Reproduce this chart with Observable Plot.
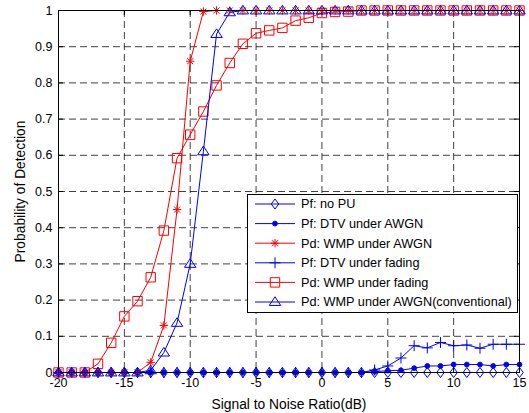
<!DOCTYPE html>
<html>
<head>
<meta charset="utf-8">
<script src="https://cdn.jsdelivr.net/npm/d3@7"></script>
<script src="https://cdn.jsdelivr.net/npm/@observablehq/plot@0.6"></script>
<style>
  html, body { margin: 0; padding: 0; background: #fff; }
  #wrap { position: relative; width: 529px; height: 413px; }
  #legend { position: absolute; }
</style>
</head>
<body>
<div id="wrap"></div>
<script>
// ---- data ----
const snr = [-20,-19,-18,-17,-16,-15,-14,-13,-12,-11,-10,-9,-8,-7,-6,-5,-4,-3,-2,-1,0,1,2,3,4,5,6,7,8,9,10,11,12,13,14,15];
const pfNoPU = [0,0,0,0,0,0,0,0,0,0,0,0,0,0,0,0,0,0,0,0,0,0,0,0,0,0,0,0,0,0,0,0,0,0,0,0];
const pfDtvAwgn = [0,0,0,0,0,0,0,0,0,0,0,0,0,0,0,0,0,0,0,0,0,0,0,0,0.002,0.005,0.006,0.012,0.018,0.018,0.022,0.022,0.022,0.018,0.022,0.022];
const pdWmpAwgn = [0,0,0,0,0,0,0,0.028,0.13,0.45,0.86,0.997,1,1,1,1,1,1,1,1,1,1,1,1,1,1,1,1,1,1,1,1,1,1,1,1];
const pfDtvFading = [0,0,0,0,0,0,0,0,0,0,0,0,0,0,0,0,0,0,0,0,0,0,0,0,0.007,0.018,0.04,0.074,0.068,0.083,0.074,0.076,0.067,0.078,0.078,0.078];
const pdWmpFading = [0,0,0,0.024,0.082,0.155,0.197,0.263,0.392,0.592,0.657,0.721,0.793,0.855,0.908,0.937,0.945,0.952,0.972,0.98,0.993,0.996,0.997,1,1,1,1,1,1,1,1,1,1,1,1,1];
const pdConventional = [0,0,0,0,0,0,0,0.006,0.055,0.137,0.30,0.611,0.935,0.995,1,1,1,1,1,1,1,1,1,1,1,1,1,1,1,1,1,1,1,1,1,1];
const seriesNames = ["Pf: no PU","Pf: DTV under AWGN","Pd: WMP under AWGN","Pf: DTV under fading","Pd: WMP under fading","Pd: WMP under AWGN(conventional)"];
const xTicks = [-20,-15,-10,-5,0,5,10,15];
const yTicks = [0,0.1,0.2,0.3,0.4,0.5,0.6,0.7,0.8,0.9,1];
const xLabel = "Signal to Noise Ratio(dB)";
const yLabel = "Probability of Detection";

// ---- marker shapes (MATLAB-like); r = half extent in px ----
const half = size => Math.sqrt(size / Math.PI);
const symDiamond = {draw(c, s){ const h = half(s), w = h*0.75; c.moveTo(0,-h); c.lineTo(w,0); c.lineTo(0,h); c.lineTo(-w,0); c.closePath(); }};
const symSquare = {draw(c, s){ const h = half(s); c.moveTo(-h,-h); c.lineTo(h,-h); c.lineTo(h,h); c.lineTo(-h,h); c.closePath(); }};
const symTriangle = {draw(c, s){ const h = half(s); c.moveTo(0,-h); c.lineTo(1.1*h,0.66*h); c.lineTo(-1.1*h,0.66*h); c.closePath(); }};
const symPlus = {draw(c, s){ const h = half(s); c.moveTo(-h,0); c.lineTo(h,0); c.moveTo(0,-h); c.lineTo(0,h); }};
const symStar = {draw(c, s){ const h = half(s), d = h*0.72; c.moveTo(-h,0); c.lineTo(h,0); c.moveTo(0,-h); c.lineTo(0,h); c.moveTo(-d,-d); c.lineTo(d,d); c.moveTo(-d,d); c.lineTo(d,-d); }};
const symDot = {draw(c, s){ const h = half(s); c.moveTo(h,0); c.arc(0,0,h,0,2*Math.PI); c.closePath(); }};

const BLUE = "#0000ff", RED = "#ff0000";
const series = [
  {name: seriesNames[0], values: pfNoPU, color: BLUE, symbol: symDiamond, r: 5, fill: "none"},
  {name: seriesNames[1], values: pfDtvAwgn, color: BLUE, symbol: symDot, r: 2.4, fill: BLUE},
  {name: seriesNames[2], values: pdWmpAwgn, color: RED, symbol: symStar, r: 4.2, fill: "none"},
  {name: seriesNames[3], values: pfDtvFading, color: BLUE, symbol: symPlus, r: 5.5, fill: "none"},
  {name: seriesNames[4], values: pdWmpFading, color: RED, symbol: symSquare, r: 4.7, fill: "none"},
  {name: seriesNames[5], values: pdConventional, color: BLUE, symbol: symTriangle, r: 5.2, fill: "none"}
];

const W = 529, H = 413;
const mL = 58, mR = 10, mT = 10, mB = 41;
const innerW = W - mL - mR, innerH = H - mT - mB;
const tickLen = 5;
const FONT = "'Liberation Sans', Arial, Helvetica, sans-serif";

const seriesMarks = series.flatMap(s => {
  const rows = snr.map((x, i) => ({x, y: s.values[i]}));
  return [
    Plot.line(rows, {x: "x", y: "y", stroke: s.color, strokeWidth: 1}),
    Plot.dot(rows, {x: "x", y: "y", symbol: s.symbol, r: s.r, stroke: s.color, fill: s.fill, strokeWidth: 1})
  ];
});

const chart = Plot.plot({
  width: W, height: H,
  marginLeft: mL, marginRight: mR, marginTop: mT, marginBottom: mB,
  style: {fontFamily: FONT, fontSize: "12.5px", background: "#fff", color: "#000"},
  x: {domain: [-20, 15]},
  y: {domain: [0, 1]},
  marks: [
    Plot.gridX(xTicks, {stroke: "#000", strokeOpacity: 0.75, strokeDasharray: "7,4"}),
    Plot.gridY(yTicks, {stroke: "#000", strokeOpacity: 0.75, strokeDasharray: "7,4"}),
    Plot.tickX(xTicks, {x: d => d, stroke: "#000", insetTop: innerH - tickLen}),
    Plot.tickX(xTicks, {x: d => d, stroke: "#000", insetBottom: innerH - tickLen}),
    Plot.tickY(yTicks, {y: d => d, stroke: "#000", insetRight: innerW - tickLen}),
    Plot.tickY(yTicks, {y: d => d, stroke: "#000", insetLeft: innerW - tickLen}),
    ...seriesMarks,
    Plot.frame({stroke: "#000", strokeWidth: 1}),
    Plot.axisX({ticks: xTicks, tickSize: 0, tickPadding: 6, tickFormat: d => String(d), label: null}),
    Plot.axisY({ticks: yTicks, tickSize: 0, tickPadding: 6, tickFormat: d => String(d), label: null}),
    Plot.axisX({ticks: [], tickSize: 0, fontSize: 13.8,
      label: xLabel, labelAnchor: "center", labelArrow: "none", labelOffset: 36}),
    Plot.axisY({ticks: [], tickSize: 0, fontSize: 13.8,
      label: yLabel, labelAnchor: "center", labelArrow: "none", labelOffset: 43})
  ]
});

const wrap = document.getElementById("wrap");
wrap.appendChild(chart);

// ---- legend (inside plot area, top-right) ----
const lgX = 247, lgY = 194, lgW = 271, lgH = 119;
const lg = d3.select(wrap).append("svg")
  .attr("id", "legend")
  .attr("width", lgW + 2).attr("height", lgH + 2)
  .style("left", (lgX - 1) + "px").style("top", (lgY - 1) + "px");
lg.append("rect").attr("x", 1.5).attr("y", 1.5).attr("width", lgW - 1).attr("height", lgH - 1)
  .attr("fill", "#fff").attr("stroke", "#000").attr("stroke-width", 1);
series.forEach((s, i) => {
  const cy = 1 + 10 + i * 19.6;
  const g = lg.append("g").attr("transform", `translate(0,${cy})`);
  g.append("line").attr("x1", 9).attr("x2", 49).attr("y1", 0).attr("y2", 0)
    .attr("stroke", s.color).attr("stroke-width", 1);
  g.append("path").attr("transform", "translate(29,0)")
    .attr("d", d3.symbol(s.symbol, s.r * s.r * Math.PI)())
    .attr("stroke", s.color).attr("fill", s.fill).attr("stroke-width", 1);
  g.append("text").attr("x", 55).attr("y", 0).attr("dy", "0.35em")
    .style("font-family", FONT)
    .style("font-size", "12.7px").attr("fill", "#000").text(s.name);
});
</script>
</body>
</html>
